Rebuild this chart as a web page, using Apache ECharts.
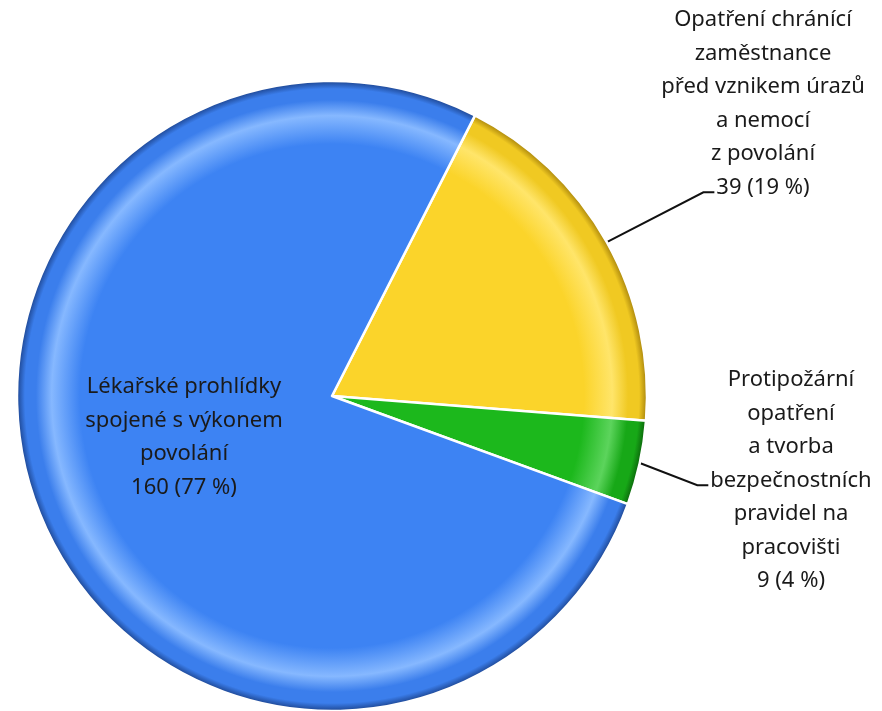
<!DOCTYPE html>
<html>
<head>
<meta charset="utf-8">
<script src="https://cdn.jsdelivr.net/npm/echarts@6/dist/echarts.min.js"></script>
<style>
  html, body { margin: 0; padding: 0; background: #ffffff; }
  #chart { width: 882px; height: 711px; }
</style>
</head>
<body>
<div id="chart"></div>
<script>
// Category names (line breaks as they are set in the labels)
var categories = [
  'Opatření chránící\nzaměstnance\npřed vznikem úrazů\na nemocí\nz povolání',
  'Protipožární\nopatření\na tvorba\nbezpečnostních\npravidel na\npracovišti',
  'Lékařské prohlídky\nspojené s výkonem\npovolání'
];
// Number of measures per category
var values = [39, 9, 160];

// Slice colours: base / highlight / shade
var palettes = [
  { base: '#fbd42a', light: '#ffe56a', mid: '#f0c922', dark: '#a8840c' },
  { base: '#1cb81c', light: '#5cd45c', mid: '#17a817', dark: '#0b640b' },
  { base: '#3d83f3', light: '#86b8ff', mid: '#3b7eec', dark: '#1d4590' }
];

// Label placement (text block centre x, top y) and which line carries the leader
var labelSpots = [
  { x: 763, y: 3, anchorLine: 5 },
  { x: 791, y: 363, anchorLine: 3 },
  { x: 184, y: 370, anchorLine: null }
];

var CX = 332, CY = 396, R = 315;
var FONT_SIZE = 22;
var LINE_H = 33.5;
var FONT_FAMILY = '"Noto Sans", "Open Sans", sans-serif';

var measureCtx = document.createElement('canvas').getContext('2d');
measureCtx.font = FONT_SIZE + 'px ' + FONT_FAMILY;

function sliceGradient(p) {
  return {
    type: 'radial', x: CX, y: CY, r: R, global: true,
    colorStops: [
      { offset: 0, color: p.base },
      { offset: 0.80, color: p.base },
      { offset: 0.89, color: p.light },
      { offset: 0.94, color: p.mid },
      { offset: 0.975, color: p.mid },
      { offset: 1, color: p.dark }
    ]
  };
}

var total = values.reduce(function (a, b) { return a + b; }, 0);

function labelText(i) {
  var pct = Math.round(values[i] / total * 100);
  return categories[i] + '\n' + values[i] + ' (' + pct + ' %)';
}

var seriesData = values.map(function (v, i) {
  var item = {
    name: categories[i],
    value: v,
    itemStyle: { color: sliceGradient(palettes[i]) }
  };
  if (labelSpots[i].anchorLine === null) {
    item.label = { position: 'inside' };
    item.labelLine = { show: false };
  }
  return item;
});

var chart = echarts.init(document.getElementById('chart'), null, { renderer: 'canvas' });

chart.setOption({
  backgroundColor: '#ffffff',
  animation: false,
  series: [{
    type: 'pie',
    center: [CX, CY],
    radius: [0, R],
    startAngle: 63,
    clockwise: true,
    avoidLabelOverlap: false,
    silent: true,
    itemStyle: { borderColor: '#ffffff', borderWidth: 2.5 },
    label: {
      show: true,
      position: 'outside',
      color: '#1a1a1a',
      fontFamily: FONT_FAMILY,
      fontSize: FONT_SIZE,
      lineHeight: LINE_H,
      align: 'center',
      formatter: function (p) { return labelText(p.dataIndex); }
    },
    labelLine: {
      show: true,
      lineStyle: { color: '#111111', width: 2 }
    },
    labelLayout: function (p) {
      var spot = labelSpots[p.dataIndex];
      var out = { x: spot.x, y: spot.y, align: 'center', verticalAlign: 'top' };
      if (spot.anchorLine !== null && p.labelLinePoints) {
        var lines = labelText(p.dataIndex).split('\n');
        var w = measureCtx.measureText(lines[spot.anchorLine]).width;
        var ex = spot.x - w / 2 - 2;
        var ey = spot.y + (spot.anchorLine + 0.5) * LINE_H + 5;
        out.labelLinePoints = [p.labelLinePoints[0], [ex - 11, ey], [ex, ey]];
      }
      return out;
    },
    data: seriesData
  }]
});
</script>
</body>
</html>
